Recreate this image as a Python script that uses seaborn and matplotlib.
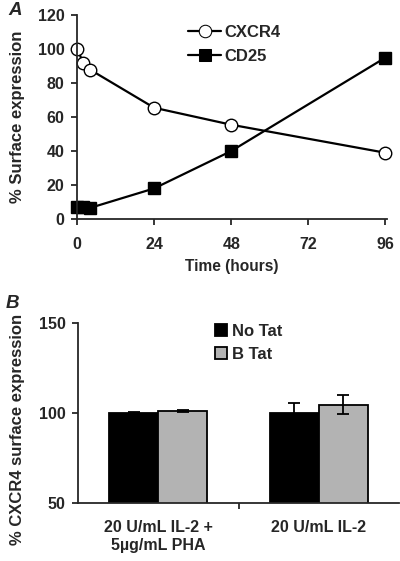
import pandas as pd
import numpy as np
import matplotlib
matplotlib.use("Agg")
import matplotlib.pyplot as plt
import seaborn as sns

sns.set_style("ticks")
plt.rcParams["font.family"] = ["Liberation Sans", "DejaVu Sans"]
plt.rcParams["font.weight"] = "bold"

# Panel A data
time_hours = [0, 2, 4, 24, 48, 96]
cxcr4_pct = [100, 92, 88, 65.5, 55.5, 39]
cd25_pct = [7, 7, 6.5, 18, 40, 95]

# Panel B data
conditions = ["20 U/mL IL-2 +\n5µg/mL PHA", "20 U/mL IL-2"]
treatments = ["No Tat", "B Tat"]
no_tat = [100, 100]
b_tat = [101, 104.5]
no_tat_err = [0.4, 5.7]
b_tat_err = [0.4, 5.3]

fig = plt.figure(figsize=(4, 5.61), dpi=100)
ax1 = fig.add_axes([0.1925, 0.6096, 0.775, 0.3634])
ax2 = fig.add_axes([0.195, 0.1034, 0.8025, 0.3208])

# ---- Panel A
df_a = pd.DataFrame({
    "Time": time_hours * 2,
    "Pct": cxcr4_pct + cd25_pct,
    "Marker": ["CXCR4"] * len(time_hours) + ["CD25"] * len(time_hours),
})
sns.lineplot(data=df_a, x="Time", y="Pct", hue="Marker", style="Marker",
             markers={"CXCR4": "o", "CD25": "s"}, dashes=False,
             palette={"CXCR4": "black", "CD25": "black"},
             linewidth=1.6, markersize=9, ax=ax1)
for line, fc in zip(ax1.lines[:2], ["white", "black"]):
    line.set_markerfacecolor(fc)
    line.set_markeredgecolor("black")
    line.set_markeredgewidth(1.0)
    line.set_clip_on(False)
ax1.set_xlim(0, 96.5)
ax1.set_ylim(0, 120)
ax1.set_xticks([0, 24, 48, 72, 96])
ax1.set_yticks(range(0, 121, 20))
ax1.set_xlabel("Time (hours)", fontsize=11.2, fontweight="bold", labelpad=5)
ax1.set_ylabel("% Surface expression", fontsize=12, fontweight="bold")
ax1.yaxis.set_label_coords(-0.168, 0.5)
ax1.tick_params(labelsize=11.5, width=1.3, length=4, direction="out")
ax1.tick_params(axis="x", pad=9)
ax1.tick_params(axis="y", pad=5)
for s in ["left", "bottom"]:
    ax1.spines[s].set_linewidth(1.3)
sns.despine(ax=ax1)
h, l = ax1.get_legend_handles_labels()
for hh, fc in zip(h, ["white", "black"]):
    hh.set_markerfacecolor(fc)
    hh.set_markeredgecolor("black")
ax1.legend(h, l, loc="upper left", bbox_to_anchor=(0.31, 1.025), frameon=False,
           fontsize=12, handlelength=2.0, handletextpad=0.2, labelspacing=0.55)
fig.text(0.02, 0.997, "A", fontsize=13.5, fontweight="bold", style="italic", va="top")

# ---- Panel B
df_b = pd.DataFrame({
    "Condition": conditions * 2,
    "Value": no_tat + b_tat,
    "Treatment": [treatments[0]] * 2 + [treatments[1]] * 2,
})
sns.barplot(data=df_b, x="Condition", y="Value", hue="Treatment",
            palette={"No Tat": "black", "B Tat": "#b3b3b3"},
            errorbar=None, width=0.61, edgecolor="black", linewidth=1.3,
            ax=ax2)
errs = no_tat_err + b_tat_err
vals = no_tat + b_tat
bars = [p for p in ax2.patches if p.get_height() > 0][:4]
for bar, v, e in zip(bars, vals, errs):
    ax2.errorbar(bar.get_x() + bar.get_width() / 2, v, yerr=e, color="black",
                 capsize=4, elinewidth=1.3, capthick=1.3)
ax2.set_ylim(50, 150)
ax2.set_yticks([50, 100, 150])
ax2.set_xlim(-0.5, 1.5)
ax2.set_xticks([0.5])
ax2.set_xticklabels([""])
for i, c in enumerate(conditions):
    ax2.text(i, 40.5, c, ha="center", va="top", fontsize=11.5, fontweight="bold",
             linespacing=1.25)
ax2.set_xlabel("")
ax2.set_ylabel("% CXCR4 surface expression", fontsize=12, fontweight="bold")
ax2.yaxis.set_label_coords(-0.165, 0.41)
ax2.tick_params(axis="y", labelsize=11.5, width=1.3, length=4, pad=5)
ax2.tick_params(axis="x", width=1.3, length=4)
for s in ["left", "bottom"]:
    ax2.spines[s].set_linewidth(1.3)
sns.despine(ax=ax2)
ax2.legend(loc="upper left", bbox_to_anchor=(0.38, 1.08), frameon=False,
           fontsize=12, handlelength=0.7, handleheight=0.7,
           handletextpad=0.3, labelspacing=0.5)
fig.text(0.015, 0.475, "B", fontsize=13.5, fontweight="bold", style="italic", va="top")

fig.savefig("out.png", dpi=100)
